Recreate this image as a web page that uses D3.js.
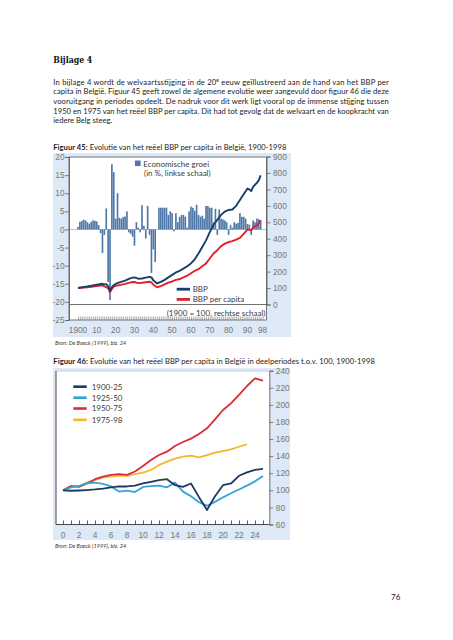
<!DOCTYPE html>
<html><head><meta charset="utf-8">
<script src="https://cdn.jsdelivr.net/npm/d3@7"></script>
<style>body{margin:0;background:#fff}svg{display:block}</style>
</head><body><svg id="c" width="453" height="640"></svg>
<script>
// ---------- Figure 45 data ----------
const growthStartYear = 1900;
const growthValues = [
 0.7,2.1,2.3,2.7,2.5,2.0,1.6,2.1,2.5,2.4, // 1900-09
 2.2,1.2,-1.0,-6.5,-1.5,5.8,-14.5,-19.5,18.0,15.8, // 1910-19
 3.0,10.0,3.2,3.0,3.4,3.6,5.0,-0.8,-1.2,-2.0, // 1920-29
 -4.5,2.0,0.5,-0.8,6.7,1.0,-2.5,6.5,-1.5,-12.0, // 1930-39
 -5.5,-9.0,0.0,6.0,6.0,6.0,6.0,6.0,4.0,5.0, // 1940-49
 4.5,-0.5,4.5,2.0,3.5,4.0,4.0,3.5,0.5,5.0, // 1950-59
 6.3,6.0,5.2,6.8,4.0,3.5,3.8,3.0,6.5,6.5, // 1960-69
 6.0,6.0,2.0,5.7,-1.5,5.5,3.0,2.8,2.5,2.0, // 1970-79
 -1.5,1.3,0.5,2.0,1.6,1.8,4.5,3.5,3.5,3.0, // 1980-89
 1.5,1.3,-1.5,2.5,2.0,3.0,2.8,2.6 // 1990-97
];
const bbpYears = [1900,1905,1910,1913,1914,1915,1916,1917,1918,1919,1920,1922,1925,1928,1930,1932,1934,1936,1938,1939,1940,1942,1944,1946,1948,1950,1952,1954,1956,1958,1960,1962,1964,1966,1968,1970,1972,1974,1976,1978,1980,1982,1984,1986,1988,1990,1991,1992,1993,1995,1996,1997];
const bbpValues = [100,110,120,126,122,124,112,84,105,118,125,135,145,160,165,157,158,163,168,165,148,128,138,150,165,180,195,205,218,233,250,275,310,350,390,440,485,515,545,565,575,578,600,635,670,705,700,690,715,740,755,785];
const capYears = [1900,1905,1910,1913,1914,1916,1917,1918,1919,1920,1922,1925,1928,1930,1932,1934,1936,1938,1939,1940,1942,1944,1946,1948,1950,1952,1954,1956,1958,1960,1962,1964,1966,1968,1970,1972,1974,1976,1978,1980,1982,1984,1986,1988,1990,1991,1992,1993,1995,1997];
const capValues = [100,105,112,116,110,100,74,95,108,113,118,125,135,137,130,132,135,138,134,120,105,112,122,133,140,150,155,165,175,190,205,215,232,250,280,310,330,355,370,380,385,395,405,430,455,455,450,470,480,510];
const leftTicks = [20,15,10,5,0,-5,-10,-15,-20,-25];
const rightTicks = [0,100,200,300,400,500,600,700,800,900];
const xTickYears = [1900,1910,1920,1930,1940,1950,1960,1970,1980,1990,1998];
const xTickLabels = ["1900","10","20","30","40","50","60","70","80","90","98"];

// ---------- Figure 46 data ----------
const periodNames = ["1900-25","1925-50","1950-75","1975-98"];
const periodColors = ["#1d3a62","#33a3da","#d92b3a","#f6b52a"];
const p1900 = [100,99.5,99.8,100.3,101,102,103.5,104.5,104.5,105.5,108,110,112,113,106,104,108,92,77,93,106,108,117,121,124,125];
const p1925 = [100,103.5,105,108.5,109,107.5,104.5,98.5,99.6,98,104,105,105.5,103.5,109,98.5,93,86,82,86.5,91.8,96.5,101,105.5,110.5,116.7];
const p1950 = [100,105,104,108,113,116,118,119,118,122,128.5,135.5,141.3,145.2,151.9,156.6,160.5,165.9,172.6,183.1,194,201.8,211.6,222.1,231.1,228.4];
const p1975 = [100,105,105,109,112,115.2,116,116.8,116.8,119,120.7,123.8,129.6,133.5,137,139.4,140.5,138.6,141.3,144,146,148,151,153.8];
const fig46YTicks = [60,80,100,120,140,160,180,200,220,240];
const fig46XTicks = [0,2,4,6,8,10,12,14,16,18,20,22,24];

const svg = d3.select("#c");
const bodyFont = "Lato, 'Open Sans', sans-serif";
const axisFont = "'Liberation Sans', Arial, sans-serif";
const axisColor = "#777";

// ---------- Page text ----------
svg.append("text").attr("x",53.3).attr("y",63).attr("font-family","'DejaVu Serif', 'Liberation Serif', serif").attr("font-weight","bold")
  .attr("font-size",10).attr("fill","#111").attr("textLength",39).attr("lengthAdjust","spacingAndGlyphs").text("Bijlage 4");

const para = [
  ["In bijlage 4 wordt de welvaartsstijging in de 20","e"," eeuw geïllustreerd aan de hand van het BBP per"],
  ["capita in België. Figuur 45 geeft zowel de algemene evolutie weer aangevuld door figuur 46 die deze"],
  ["vooruitgang in periodes opdeelt. De nadruk voor dit werk ligt vooral op de immense stijging tussen"],
  ["1950 en 1975 van het reëel BBP per capita. Dit had tot gevolg dat de welvaart en de koopkracht van"],
  ["iedere Belg steeg."]
];
const paraY = [84.6,94.4,104.1,113.8,123.4];
para.forEach((parts,i)=>{
  const t = svg.append("text").attr("x",53.3).attr("y",paraY[i]).attr("font-family",bodyFont)
    .attr("font-size",7.6).attr("fill","#222");
  if(i<4){ t.attr("textLength",335.5).attr("lengthAdjust","spacing"); }
  if(parts.length===3){
    t.append("tspan").text(parts[0]);
    t.append("tspan").attr("font-size",4.8).attr("dy",-3).text(parts[1]);
    t.append("tspan").attr("dy",3).text(parts[2]);
  } else t.text(parts[0]);
});

function caption(y, bold, rest, len){
  const t = svg.append("text").attr("x",53.3).attr("y",y).attr("font-family",bodyFont)
    .attr("font-size",7.6).attr("fill","#222").attr("textLength",len).attr("lengthAdjust","spacing");
  t.append("tspan").attr("font-weight","bold").text(bold);
  t.append("tspan").text(rest);
}
caption(150,"Figuur 45:"," Evolutie van het reëel BBP per capita in België, 1900-1998",233);
caption(363.8,"Figuur 46:"," Evolutie van het reëel BBP per capita in België in deelperiodes t.o.v. 100, 1900-1998",321.5);

function source(y){
  svg.append("text").attr("x",55).attr("y",y).attr("font-family",bodyFont).attr("font-style","italic")
    .attr("font-size",5.6).attr("fill","#333").text("Bron: De Boeck (1999), blz. 24");
}
source(345.3);
source(547.6);
svg.append("text").attr("x",391).attr("y",600).attr("font-family",bodyFont).attr("font-size",8)
  .attr("fill","#222").text("76");

// ---------- Figure 45 ----------
const f45 = {L:69, R:266.5, T:157, B:320};
svg.append("rect").attr("x",53).attr("y",153).attr("width",238).attr("height",184).attr("fill","#dde9f6");
svg.append("rect").attr("x",f45.L).attr("y",f45.T).attr("width",f45.R-f45.L).attr("height",f45.B-f45.T).attr("fill","#fff");

const x45 = d3.scaleLinear().domain([1900,1998]).range([78,262.5]);
const yL = d3.scaleLinear().domain([-25,20]).range([f45.B,f45.T]);
const yR = d3.scaleLinear().domain([0,900]).range([304.5,156.5]);

const g45 = svg.append("g");
g45.append("line").attr("x1",f45.L).attr("x2",f45.R).attr("y1",yL(0)).attr("y2",yL(0))
  .attr("stroke","#c9a3ab").attr("stroke-width",0.8);
const bw = 1.65;
g45.selectAll("rect.bar").data(growthValues).join("rect").attr("class","bar")
  .attr("x",(d,i)=>x45(growthStartYear+i)-bw/2)
  .attr("y",d=>yL(Math.max(d,0)))
  .attr("width",bw)
  .attr("height",d=>Math.abs(yL(d)-yL(0)))
  .attr("fill","#4f78a8");
const lineR = d3.line().x(d=>x45(d[0])).y(d=>yR(d[1]));
g45.append("path").datum(capYears.map((y,i)=>[y,capValues[i]])).attr("d",lineR)
  .attr("fill","none").attr("stroke","#e3202b").attr("stroke-width",1.9).attr("stroke-linejoin","round");
g45.append("path").datum(bbpYears.map((y,i)=>[y,bbpValues[i]])).attr("d",lineR)
  .attr("fill","none").attr("stroke","#183f68").attr("stroke-width",1.9).attr("stroke-linejoin","round");
g45.append("line").attr("x1",f45.L).attr("x2",f45.R).attr("y1",yR(0)).attr("y2",yR(0))
  .attr("stroke","#333").attr("stroke-width",0.7);
g45.append("rect").attr("x",f45.L).attr("y",f45.T).attr("width",f45.R-f45.L).attr("height",f45.B-f45.T)
  .attr("fill","none").attr("stroke","#555").attr("stroke-width",0.8);

const axL = d3.axisLeft(yL).tickValues(leftTicks).tickSize(4).tickFormat(d=>String(d));
const gL = svg.append("g").attr("transform",`translate(${f45.L},0)`).call(axL);
const axR = d3.axisRight(yR).tickValues(rightTicks).tickSize(4).tickFormat(d=>String(d));
const gR = svg.append("g").attr("transform",`translate(${f45.R},0)`).call(axR);
const axB = d3.axisTop(x45).tickValues(d3.range(1900,1999)).tickSize(3.5).tickFormat("");
const gB = svg.append("g").attr("transform",`translate(0,${f45.B})`).call(axB);
gB.select(".domain").remove();
svg.append("g").selectAll("text").data(xTickYears).join("text")
  .attr("x",d=>x45(d)).attr("y",333).attr("text-anchor","middle")
  .attr("font-family",axisFont).attr("font-size",8.3).attr("fill",axisColor)
  .text((d,i)=>xTickLabels[i]);
[gL,gR].forEach(g=>{
  g.select(".domain").attr("stroke","#555").attr("stroke-width",0.8);
  g.selectAll(".tick line").attr("stroke","#666").attr("stroke-width",0.8);
  g.selectAll(".tick text").attr("font-family",axisFont).attr("font-size",8.3).attr("fill",axisColor);
});
gL.selectAll(".tick text").attr("x",-4.5);
gR.selectAll(".tick text").attr("x",6.5);
gB.selectAll(".tick line").attr("stroke","#777").attr("stroke-width",0.6);

const legFont = "Lato, 'Open Sans', sans-serif";
const legColor = "#3a3a3a";
svg.append("rect").attr("x",135).attr("y",160.5).attr("width",5.6).attr("height",5.6).attr("fill","#4f78a8");
svg.append("text").attr("x",143.3).attr("y",166.6).attr("font-family",legFont).attr("font-size",8).attr("fill",legColor).text("Economische groei");
svg.append("text").attr("x",144).attr("y",176).attr("font-family",legFont).attr("font-size",8).attr("fill",legColor).text("(in %, linkse schaal)");
svg.append("line").attr("x1",176.7).attr("x2",190).attr("y1",289.2).attr("y2",289.2).attr("stroke","#183f68").attr("stroke-width",2.8);
svg.append("text").attr("x",192.7).attr("y",292).attr("font-family",legFont).attr("font-size",8).attr("fill",legColor).text("BBP");
svg.append("line").attr("x1",176.7).attr("x2",190).attr("y1",299.4).attr("y2",299.4).attr("stroke","#e3202b").attr("stroke-width",2.8);
svg.append("text").attr("x",192.7).attr("y",302.2).attr("font-family",legFont).attr("font-size",8).attr("fill",legColor).text("BBP per capita");
svg.append("text").attr("x",166.7).attr("y",315.5).attr("font-family",legFont).attr("font-size",8).attr("fill",legColor).text("(1900 = 100, rechtse schaal)");

// ---------- Figure 46 ----------
const f46 = {L:56, R:269.3, T:371, B:524.5};
svg.append("rect").attr("x",53).attr("y",368).attr("width",237).attr("height",172).attr("fill","#dde9f6");
svg.append("rect").attr("x",f46.L).attr("y",f46.T).attr("width",f46.R-f46.L).attr("height",f46.B-f46.T).attr("fill","#fff");
const x46 = d3.scaleLinear().domain([0,25]).range([63,263]);
const y46 = d3.scaleLinear().domain([60,240]).range([f46.B,370.7]);

svg.append("line").attr("x1",f46.L).attr("x2",f46.R).attr("y1",f46.T).attr("y2",f46.T).attr("stroke","#bbb").attr("stroke-width",0.7);
const series46 = [p1900,p1925,p1950,p1975];
const line46 = d3.line().x((d,i)=>x46(i)).y(d=>y46(d));
[3,2,1,0].forEach(k=>{
  svg.append("path").datum(series46[k]).attr("d",line46).attr("fill","none")
    .attr("stroke",periodColors[k]).attr("stroke-width",1.8).attr("stroke-linejoin","round");
});
svg.append("line").attr("x1",f46.L).attr("x2",f46.L).attr("y1",f46.T).attr("y2",f46.B).attr("stroke","#333").attr("stroke-width",0.9);
const ax46B = d3.axisTop(x46).tickValues(d3.range(0,26)).tickSize(4).tickFormat("");
const g46B = svg.append("g").attr("transform",`translate(0,${f46.B})`).call(ax46B);
g46B.select(".domain").remove();
g46B.selectAll(".tick line").attr("stroke","#333").attr("stroke-width",0.8);
svg.append("line").attr("x1",f46.L).attr("x2",f46.R).attr("y1",f46.B).attr("y2",f46.B).attr("stroke","#333").attr("stroke-width",0.9);
svg.append("g").selectAll("text").data(fig46XTicks).join("text")
  .attr("x",d=>x46(d)).attr("y",537.6).attr("text-anchor","middle")
  .attr("font-family",axisFont).attr("font-size",8.3).attr("fill",axisColor).text(d=>d);
const ax46R = d3.axisRight(y46).tickValues(fig46YTicks).tickSize(4).tickFormat(d=>d);
const g46R = svg.append("g").attr("transform",`translate(${f46.R},0)`).call(ax46R);
g46R.select(".domain").attr("stroke","#555").attr("stroke-width",0.8);
g46R.selectAll(".tick line").attr("stroke","#666").attr("stroke-width",0.8);
g46R.selectAll(".tick text").attr("x",6.5).attr("font-family",axisFont).attr("font-size",8.3).attr("fill",axisColor);

const legY = [386.7,397.7,408.5,419.8];
periodNames.forEach((n,i)=>{
  svg.append("line").attr("x1",73.3).attr("x2",86.7).attr("y1",legY[i]).attr("y2",legY[i])
    .attr("stroke",periodColors[i]).attr("stroke-width",2.6);
  svg.append("text").attr("x",91.7).attr("y",legY[i]+2.9).attr("font-family",legFont).attr("font-size",8)
    .attr("fill",legColor).text(n);
});
</script></body></html>
